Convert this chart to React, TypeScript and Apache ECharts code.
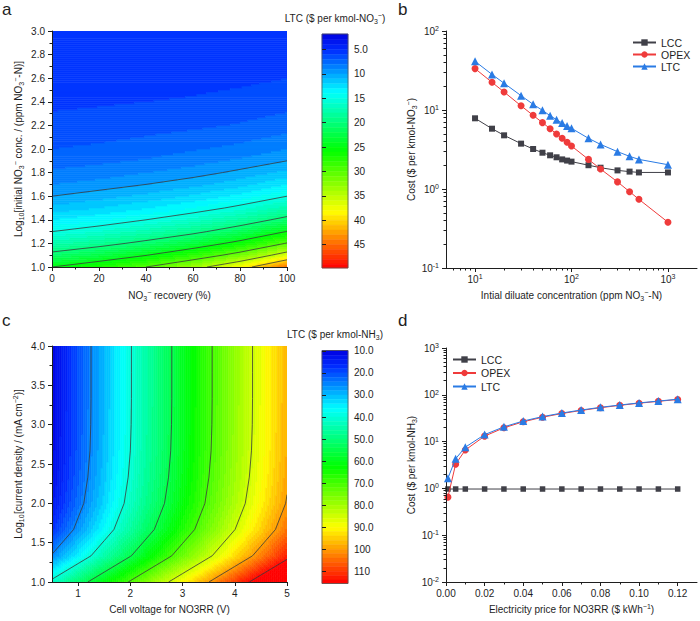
import React, { useEffect, useRef } from 'react';
import * as echarts from 'echarts';

const FONT = '"Liberation Sans", Arial, Helvetica, sans-serif';
const INK = '#1e1e1e';

// ---------------- Panel a : LTC map (recovery x log10 initial conc.) ----------------
const aRecovery = [0, 20, 40, 60, 80, 100];
const aLogConc = [1.0, 1.1, 1.2, 1.3, 1.4, 1.5, 1.6, 1.7, 1.8, 1.9, 2.0, 2.2, 2.4, 2.6, 2.8, 3.0];
// rows follow aLogConc, columns follow aRecovery
const aLTC = [
  [25.0, 27.2, 30.0, 33.6, 38.3, 45.0],
  [20.9, 22.6, 24.9, 27.7, 31.4, 36.8],
  [17.6, 19.0, 20.8, 23.0, 26.0, 30.2],
  [15.0, 16.1, 17.5, 19.3, 21.7, 25.1],
  [13.0, 13.8, 15.0, 16.4, 18.3, 20.9],
  [11.3, 12.0, 12.9, 14.0, 15.5, 17.6],
  [10.0, 10.6, 11.3, 12.2, 13.4, 15.0],
  [9.0, 9.4, 10.0, 10.7, 11.6, 13.0],
  [8.2, 8.5, 9.0, 9.5, 10.3, 11.3],
  [7.5, 7.8, 8.1, 8.6, 9.2, 10.0],
  [7.0, 7.2, 7.5, 7.9, 8.3, 9.0],
  [6.3, 6.4, 6.6, 6.8, 7.1, 7.5],
  [5.8, 5.9, 6.0, 6.1, 6.3, 6.6],
  [5.5, 5.6, 5.6, 5.7, 5.8, 6.0],
  [5.3, 5.4, 5.4, 5.5, 5.5, 5.6],
  [5.2, 5.2, 5.3, 5.3, 5.3, 5.4],
];
const aContourLevels = [10, 15, 20, 25, 30, 35, 40];
const aBarTicks = [5, 10, 15, 20, 25, 30, 35, 40, 45];

// ---------------- Panel b : cost vs initial diluate concentration ----------------
const bConc = [10, 15, 20, 30, 40, 50, 60, 70, 80, 90, 100, 150, 200, 300, 400, 500, 1000];
const bLCC = [7.85, 5.8, 4.78, 3.75, 3.21, 2.88, 2.67, 2.52, 2.37, 2.29, 2.22, 2.0, 1.86, 1.72, 1.66, 1.62, 1.62];
const bOPEX = [33.4, 22.4, 16.9, 11.3, 8.56, 6.92, 5.8, 4.97, 4.38, 3.9, 3.5, 2.37, 1.79, 1.23, 0.925, 0.74, 0.38];
const bLTC = [41.3, 28.2, 21.8, 15.2, 11.8, 9.9, 8.48, 7.55, 6.84, 6.27, 5.86, 4.38, 3.67, 2.97, 2.59, 2.37, 2.03];

// ---------------- Panel c : LTC map (cell voltage x log10 current density) ----------------
const cVoltage = [0.5, 1.0, 1.5, 2.0, 2.5, 3.0, 3.5, 4.0, 4.5, 5.0];
const cLogCurrent = [1.0, 1.333, 1.667, 2.0, 2.333, 2.667, 3.0, 3.333, 3.667, 4.0];
// rows follow cLogCurrent, columns follow cVoltage
const cLTC = [
  [41.7, 51.4, 61.1, 70.8, 80.5, 90.2, 99.9, 109.6, 119.3, 129.0],
  [25.5, 35.2, 44.9, 54.6, 64.3, 74.0, 83.7, 93.4, 103.1, 112.8],
  [17.0, 26.7, 36.4, 46.1, 55.8, 65.5, 75.2, 84.9, 94.6, 104.3],
  [13.2, 22.9, 32.6, 42.3, 52.0, 61.7, 71.4, 81.1, 90.8, 100.5],
  [11.7, 21.4, 31.1, 40.8, 50.5, 60.2, 69.9, 79.6, 89.3, 99.0],
  [10.9, 20.6, 30.3, 40.0, 49.7, 59.4, 69.1, 78.8, 88.5, 98.2],
  [10.6, 20.3, 30.0, 39.7, 49.4, 59.1, 68.8, 78.5, 88.2, 97.9],
  [10.5, 20.2, 29.9, 39.6, 49.3, 59.0, 68.7, 78.4, 88.1, 97.8],
  [10.5, 20.2, 29.9, 39.6, 49.3, 59.0, 68.7, 78.4, 88.1, 97.8],
  [10.5, 20.2, 29.9, 39.6, 49.3, 59.0, 68.7, 78.4, 88.1, 97.8],
];
const cContourLevels = [25, 40, 55, 70, 85, 100, 115];
const cBarTicks = [10, 20, 30, 40, 50, 60, 70, 80, 90, 100, 110];

// ---------------- Panel d : cost vs electricity price ----------------
const dPrice = [0.001, 0.005, 0.01, 0.02, 0.03, 0.04, 0.05, 0.06, 0.07, 0.08, 0.09, 0.1, 0.11, 0.12];
const dLCC = [0.97, 0.97, 0.97, 0.97, 0.97, 0.97, 0.97, 0.97, 0.97, 0.97, 0.97, 0.97, 0.97, 0.97];
const dOPEX = [0.65, 3.3, 6.6, 13.1, 19.7, 26.5, 33.2, 39.8, 46.3, 53.0, 59.5, 66.1, 72.5, 79.4];
const dLTC = [1.65, 4.3, 7.6, 14.1, 20.7, 27.5, 34.2, 40.8, 47.3, 54.0, 60.5, 67.1, 73.5, 80.4];

// ---------------- tick values ----------------
const bXMajor = [10, 100, 1000];
const bXMinor = [6, 7, 8, 9, 20, 30, 40, 50, 60, 70, 80, 90, 200, 300, 400, 500, 600, 700, 800, 900];
const bYMajor = [0.1, 1, 10, 100];
const bYMinor = [0.2, 0.3, 0.4, 0.5, 0.6, 0.7, 0.8, 0.9, 2, 3, 4, 5, 6, 7, 8, 9, 20, 30, 40, 50, 60, 70, 80, 90];
const cXMajor = [1, 2, 3, 4, 5];
const cXMinor = [0.5, 1.5, 2.5, 3.5, 4.5];
const dXMajor = [0, 0.02, 0.04, 0.06, 0.08, 0.1, 0.12];
const dXMinor = [0.01, 0.03, 0.05, 0.07, 0.09, 0.11];
const dYMajor = [0.01, 0.1, 1, 10, 100, 1000];
const dYMinor = [
  0.02, 0.03, 0.04, 0.05, 0.06, 0.07, 0.08, 0.09,
  0.2, 0.3, 0.4, 0.5, 0.6, 0.7, 0.8, 0.9,
  2, 3, 4, 5, 6, 7, 8, 9,
  20, 30, 40, 50, 60, 70, 80, 90,
  200, 300, 400, 500, 600, 700, 800, 900,
];

// ---------------- colour scales (style) ----------------
type Scale = { min: number; max: number; step: number };
const aScale: Scale = { min: 1.8, max: 49.8, step: 1 };
const cScale: Scale = { min: 9.8, max: 115.6, step: 2 };

const STOPS = [
  [0, 0, 0, 225],
  [0.07, 0, 45, 255],
  [0.25, 0, 255, 255],
  [0.5, 0, 255, 0],
  [0.76, 255, 255, 0],
  [1, 255, 0, 0],
];
function rainbow(f: number): string {
  const g = Math.max(0, Math.min(1, f));
  for (let i = 1; i < STOPS.length; i++) {
    if (g <= STOPS[i][0]) {
      const a = STOPS[i - 1];
      const b = STOPS[i];
      const t = (g - a[0]) / (b[0] - a[0]);
      const c = [1, 2, 3].map((k) => Math.round(a[k] + t * (b[k] - a[k])));
      return `rgb(${c[0]},${c[1]},${c[2]})`;
    }
  }
  return 'rgb(255,0,0)';
}
const bandLow = (s: Scale, v: number) => s.step * Math.floor(v / s.step);
const bandColor = (s: Scale, lo: number) => rainbow((lo + s.step / 2 - s.min) / (s.max - s.min));

function locate(arr: number[], v: number): [number, number] {
  let i = 0;
  while (i < arr.length - 2 && v > arr[i + 1]) i++;
  const t = (v - arr[i]) / (arr[i + 1] - arr[i]);
  return [i, Math.max(0, Math.min(1, t))];
}
function sampleField(xs: number[], ys: number[], table: number[][], x: number, y: number) {
  const [i, tx] = locate(xs, x);
  const [j, ty] = locate(ys, y);
  const v00 = table[j][i];
  const v10 = table[j][i + 1];
  const v01 = table[j + 1][i];
  const v11 = table[j + 1][i + 1];
  return v00 * (1 - tx) * (1 - ty) + v10 * tx * (1 - ty) + v01 * (1 - tx) * ty + v11 * tx * ty;
}

// run-length cells of the shaded map, derived from the table
function buildRuns(xs: number[], ys: number[], table: number[][], s: Scale, n: number, alongX: boolean) {
  const xMin = xs[0];
  const xMax = xs[xs.length - 1];
  const yMin = ys[0];
  const yMax = ys[ys.length - 1];
  const dx = (xMax - xMin) / n;
  const dy = (yMax - yMin) / n;
  const runs: number[][] = [];
  for (let a = 0; a < n; a++) {
    let start = 0;
    let cur = NaN;
    for (let b = 0; b <= n; b++) {
      let band = NaN;
      if (b < n) {
        const x = alongX ? xMin + (b + 0.5) * dx : xMin + (a + 0.5) * dx;
        const y = alongX ? yMin + (a + 0.5) * dy : yMin + (b + 0.5) * dy;
        band = bandLow(s, sampleField(xs, ys, table, x, y));
      }
      if (b === 0) {
        cur = band;
        continue;
      }
      if (band !== cur) {
        if (alongX) runs.push([xMin + start * dx, xMin + b * dx, yMin + a * dy, yMin + (a + 1) * dy, cur]);
        else runs.push([xMin + a * dx, xMin + (a + 1) * dx, yMin + start * dy, yMin + b * dy, cur]);
        start = b;
        cur = band;
      }
    }
  }
  return runs;
}

// marching squares on the table nodes
function contourSegments(xs: number[], ys: number[], table: number[][], levels: number[]) {
  const segs: number[][] = [];
  levels.forEach((level) => {
    for (let j = 0; j < ys.length - 1; j++) {
      for (let i = 0; i < xs.length - 1; i++) {
        const corners = [
          [xs[i], ys[j], table[j][i]],
          [xs[i + 1], ys[j], table[j][i + 1]],
          [xs[i + 1], ys[j + 1], table[j + 1][i + 1]],
          [xs[i], ys[j + 1], table[j + 1][i]],
        ];
        const pts: number[][] = [];
        for (let k = 0; k < 4; k++) {
          const p = corners[k];
          const q = corners[(k + 1) % 4];
          if ((p[2] < level) !== (q[2] < level)) {
            const t = (level - p[2]) / (q[2] - p[2]);
            pts.push([p[0] + t * (q[0] - p[0]), p[1] + t * (q[1] - p[1])]);
          }
        }
        if (pts.length === 2) segs.push([pts[0][0], pts[0][1], pts[1][0], pts[1][1]]);
        else if (pts.length === 4) {
          segs.push([pts[0][0], pts[0][1], pts[1][0], pts[1][1]]);
          segs.push([pts[2][0], pts[2][1], pts[3][0], pts[3][1]]);
        }
      }
    }
  });
  return segs;
}

function barStrips(s: Scale) {
  const strips: number[][] = [];
  for (let lo = bandLow(s, s.min); lo < s.max; lo += s.step) {
    strips.push([Math.max(lo, s.min), Math.min(lo + s.step, s.max), lo]);
  }
  return strips;
}

const RICH = {
  sub: { fontSize: 7, fontFamily: FONT, color: INK, lineHeight: 8, padding: [6, 0, 0, 0] },
  sup: { fontSize: 7, fontFamily: FONT, color: INK, lineHeight: 8, padding: [0, 0, 6, 0] },
};
const TICK_RICH = { sup: { fontSize: 7, fontFamily: FONT, color: INK, lineHeight: 8, padding: [0, 0, 5, 0] } };

const lineStyle = { color: INK, width: 1 };

function mainAxis(extra: any) {
  const { axisLabel, axisTick, ...rest } = extra;
  return {
    type: 'value',
    nameLocation: 'middle',
    nameTextStyle: { fontSize: 10, fontFamily: FONT, color: INK, rich: RICH },
    axisLine: { show: true, onZero: false, lineStyle },
    axisTick: { show: true, inside: false, length: 4, lineStyle, ...(axisTick || {}) },
    axisLabel: { fontSize: 10, fontFamily: FONT, color: INK, margin: 6, ...(axisLabel || {}) },
    splitLine: { show: false },
    z: 5,
    ...rest,
  };
}
function minorAxis(gridIndex: number, type: string, min: number, max: number, values: number[], position: string) {
  const ax: any = {
    gridIndex,
    type,
    min,
    max,
    position,
    axisLine: { show: false },
    axisLabel: { show: false },
    splitLine: { show: false },
    axisTick: { show: true, inside: false, length: 2.5, lineStyle, customValues: values },
    z: 6,
  };
  if (type === 'log') ax.logBase = 10;
  return ax;
}
const pow10Label = (v: number) => '10{sup|' + Math.round(Math.log10(v)) + '}';

const heatRender = (s: Scale) => (params: any, api: any) => {
  const p0 = api.coord([api.value(0), api.value(3)]);
  const p1 = api.coord([api.value(1), api.value(2)]);
  const col = bandColor(s, api.value(4));
  return {
    type: 'rect',
    shape: { x: p0[0], y: p0[1], width: p1[0] - p0[0], height: p1[1] - p0[1] },
    style: { fill: col, stroke: col, lineWidth: 0.6 },
  };
};
const contourRender = (params: any, api: any) => {
  const p0 = api.coord([api.value(0), api.value(1)]);
  const p1 = api.coord([api.value(2), api.value(3)]);
  return {
    type: 'line',
    shape: { x1: p0[0], y1: p0[1], x2: p1[0], y2: p1[1] },
    style: { stroke: '#3a3a3a', lineWidth: 0.8, fill: null },
  };
};
const stripRender = (s: Scale) => (params: any, api: any) => {
  const p0 = api.coord([0, api.value(0)]);
  const p1 = api.coord([1, api.value(1)]);
  const col = bandColor(s, api.value(2));
  const y = Math.min(p0[1], p1[1]);
  return {
    type: 'rect',
    shape: { x: p0[0], y, width: p1[0] - p0[0], height: Math.abs(p1[1] - p0[1]) },
    style: { fill: col, stroke: col, lineWidth: 0.5 },
  };
};
const frameRender = (params: any, api: any) => {
  const p0 = api.coord([0, api.value(0)]);
  const p1 = api.coord([1, api.value(1)]);
  const y = Math.min(p0[1], p1[1]);
  return {
    type: 'rect',
    shape: { x: p0[0], y, width: p1[0] - p0[0], height: Math.abs(p1[1] - p0[1]) },
    style: { fill: null, stroke: '#555', lineWidth: 0.8 },
    z2: 10,
  };
};

const LCC_COLOR = '#404048';
const OPEX_COLOR = '#ef3b3b';
const LTC_COLOR = '#2a7be4';

function lineSeries(name: string, xi: number, xs: number[], ys: number[], color: string, symbol: string, size: number, z: number) {
  return {
    type: 'line',
    name,
    xAxisIndex: xi,
    yAxisIndex: xi,
    data: xs.map((x, i) => [x, ys[i]]),
    symbol,
    symbolSize: size,
    showAllSymbol: true,
    itemStyle: { color, borderWidth: 0 },
    lineStyle: { color, width: 1 },
    silent: true,
    z,
  };
}

function buildOption() {
  const aRuns = buildRuns(aRecovery, aLogConc, aLTC, aScale, 120, true);
  const cRuns = buildRuns(cVoltage, cLogCurrent, cLTC, cScale, 120, false);
  const aSegs = contourSegments(aRecovery, aLogConc, aLTC, aContourLevels);
  const cSegs = contourSegments(cVoltage, cLogCurrent, cLTC, cContourLevels);

  const titleStyle = { fontSize: 17, fontWeight: 'normal', color: INK, fontFamily: FONT };
  const barTitleStyle = { fontSize: 10, fontWeight: 'normal', color: INK, fontFamily: FONT, rich: RICH };
  const legendBase = {
    orient: 'vertical',
    itemWidth: 23,
    itemHeight: 8,
    padding: 0,
    selectedMode: false,
    textStyle: { fontSize: 10.5, color: INK, fontFamily: FONT, lineHeight: 11 },
    data: ['LCC', 'OPEX', 'LTC'],
  };

  return {
    animation: false,
    backgroundColor: '#ffffff',
    textStyle: { fontFamily: FONT },
    title: [
      { text: 'a', left: 2, top: 1, padding: 0, textStyle: titleStyle },
      { text: 'b', left: 398, top: 1, padding: 0, textStyle: titleStyle },
      { text: 'c', left: 2, top: 312, padding: 0, textStyle: titleStyle },
      { text: 'd', left: 398, top: 312, padding: 0, textStyle: titleStyle },
      { text: 'LTC ($ per kmol-NO{sub|3}{sup|−})', left: 335, top: 13, textAlign: 'center', padding: 0, textStyle: barTitleStyle },
      { text: 'LTC ($ per kmol-NH{sub|3})', left: 335, top: 329, textAlign: 'center', padding: 0, textStyle: barTitleStyle },
    ],
    legend: [
      { ...legendBase, left: 632, top: 37, itemGap: 1 },
      { ...legendBase, left: 452, top: 354, itemGap: 2.5 },
    ],
    grid: [
      { left: 52, top: 31, width: 235, height: 236, containLabel: false, outerBoundsMode: 'none' },
      { left: 322, top: 34, width: 26, height: 234, containLabel: false, outerBoundsMode: 'none' },
      { left: 446, top: 31, width: 251, height: 237, containLabel: false, outerBoundsMode: 'none' },
      { left: 52, top: 346, width: 235, height: 236, containLabel: false, outerBoundsMode: 'none' },
      { left: 322, top: 350.5, width: 26, height: 233, containLabel: false, outerBoundsMode: 'none' },
      { left: 446, top: 348, width: 251, height: 234, containLabel: false, outerBoundsMode: 'none' },
    ],
    xAxis: [
      mainAxis({
        gridIndex: 0, min: 0, max: 100, interval: 20,
        minorTick: { show: true, splitNumber: 2, length: 2.5, lineStyle },
        name: 'NO{sub|3}{sup|−} recovery (%)', nameGap: 23,
      }),
      { gridIndex: 1, type: 'value', min: 0, max: 1, show: false },
      mainAxis({
        gridIndex: 2, type: 'log', logBase: 10, min: 5, max: 2000,
        axisTick: { customValues: bXMajor },
        axisLabel: { customValues: bXMajor, formatter: pow10Label, rich: TICK_RICH },
        name: 'Intial diluate concentration (ppm NO{sub|3}{sup|−}-N)', nameGap: 22,
      }),
      minorAxis(2, 'log', 5, 2000, bXMinor, 'bottom'),
      mainAxis({
        gridIndex: 3, min: 0.5, max: 5, interval: 0.5,
        axisTick: { customValues: cXMajor },
        axisLabel: { customValues: cXMajor, formatter: (v: number) => String(Math.round(v)) },
        name: 'Cell voltage for NO3RR (V)', nameGap: 22,
      }),
      { gridIndex: 4, type: 'value', min: 0, max: 1, show: false },
      mainAxis({
        gridIndex: 5, min: 0, max: 0.13,
        axisTick: { customValues: dXMajor },
        axisLabel: { customValues: dXMajor, formatter: (v: number) => v.toFixed(2) },
        name: 'Electricity price for NO3RR ($ kWh{sup|−1})', nameGap: 22,
      }),
      minorAxis(5, 'value', 0, 0.13, dXMinor, 'bottom'),
    ],
    yAxis: [
      mainAxis({
        gridIndex: 0, min: 1, max: 3, interval: 0.2,
        minorTick: { show: true, splitNumber: 2, length: 2.5, lineStyle },
        axisLabel: { formatter: (v: number) => v.toFixed(1), margin: 7 },
        name: 'Log{sub|10}[initial NO{sub|3}{sup|−} conc. / (ppm NO{sub|3}{sup|−}-N)]', nameGap: 29,
      }),
      {
        gridIndex: 1, type: 'value', min: aScale.min, max: aScale.max, inverse: true, position: 'right',
        axisLine: { show: false },
        axisTick: { show: true, length: 4, lineStyle, customValues: aBarTicks },
        axisLabel: {
          customValues: aBarTicks, fontSize: 10, fontFamily: FONT, color: INK, margin: 6,
          formatter: (v: number) => (v === 5 ? '5.0' : String(v)),
        },
        splitLine: { show: false },
        z: 5,
      },
      mainAxis({
        gridIndex: 2, type: 'log', logBase: 10, min: 0.1, max: 100,
        axisTick: { customValues: bYMajor },
        axisLabel: { customValues: bYMajor, formatter: pow10Label, rich: TICK_RICH, margin: 7 },
        name: 'Cost ($ per kmol-NO{sub|3}{sup|−})', nameGap: 28,
      }),
      minorAxis(2, 'log', 0.1, 100, bYMinor, 'left'),
      mainAxis({
        gridIndex: 3, min: 1, max: 4, interval: 0.5,
        minorTick: { show: true, splitNumber: 2, length: 2.5, lineStyle },
        axisLabel: { formatter: (v: number) => v.toFixed(1), margin: 7 },
        name: 'Log{sub|10}[current density / (mA cm{sup|−2})]', nameGap: 29,
      }),
      {
        gridIndex: 4, type: 'value', min: cScale.min, max: cScale.max, inverse: true, position: 'right',
        axisLine: { show: false },
        axisTick: { show: true, length: 4, lineStyle, customValues: cBarTicks },
        axisLabel: {
          customValues: cBarTicks, fontSize: 10, fontFamily: FONT, color: INK, margin: 6,
          formatter: (v: number) => (v < 100 ? v.toFixed(1) : String(v)),
        },
        splitLine: { show: false },
        z: 5,
      },
      mainAxis({
        gridIndex: 5, type: 'log', logBase: 10, min: 0.01, max: 1000,
        axisTick: { customValues: dYMajor },
        axisLabel: { customValues: dYMajor, formatter: pow10Label, rich: TICK_RICH, margin: 7 },
        name: 'Cost ($ per kmol-NH{sub|3})', nameGap: 28,
      }),
      minorAxis(5, 'log', 0.01, 1000, dYMinor, 'left'),
    ],
    series: [
      { type: 'custom', name: 'mapA', xAxisIndex: 0, yAxisIndex: 0, data: aRuns, renderItem: heatRender(aScale), silent: true, clip: true, z: 1 },
      { type: 'custom', name: 'contourA', xAxisIndex: 0, yAxisIndex: 0, data: aSegs, renderItem: contourRender, silent: true, clip: true, z: 2 },
      { type: 'custom', name: 'barA', xAxisIndex: 1, yAxisIndex: 1, data: barStrips(aScale), renderItem: stripRender(aScale), silent: true, z: 1 },
      { type: 'custom', name: 'frameA', xAxisIndex: 1, yAxisIndex: 1, data: [[aScale.min, aScale.max]], renderItem: frameRender, silent: true, z: 3 },
      lineSeries('LCC', 2, bConc, bLCC, LCC_COLOR, 'rect', 6, 3),
      lineSeries('OPEX', 2, bConc, bOPEX, OPEX_COLOR, 'circle', 7, 4),
      lineSeries('LTC', 2, bConc, bLTC, LTC_COLOR, 'triangle', 8, 5),
      { type: 'custom', name: 'mapC', xAxisIndex: 4, yAxisIndex: 4, data: cRuns, renderItem: heatRender(cScale), silent: true, clip: true, z: 1 },
      { type: 'custom', name: 'contourC', xAxisIndex: 4, yAxisIndex: 4, data: cSegs, renderItem: contourRender, silent: true, clip: true, z: 2 },
      { type: 'custom', name: 'barC', xAxisIndex: 5, yAxisIndex: 5, data: barStrips(cScale), renderItem: stripRender(cScale), silent: true, z: 1 },
      { type: 'custom', name: 'frameC', xAxisIndex: 5, yAxisIndex: 5, data: [[cScale.min, cScale.max]], renderItem: frameRender, silent: true, z: 3 },
      lineSeries('LCC', 6, dPrice, dLCC, LCC_COLOR, 'rect', 5.5, 3),
      lineSeries('OPEX', 6, dPrice, dOPEX, OPEX_COLOR, 'circle', 7, 4),
      lineSeries('LTC', 6, dPrice, dLTC, LTC_COLOR, 'triangle', 8, 5),
    ],
  };
}

export default function App() {
  const ref = useRef<HTMLDivElement>(null);
  useEffect(() => {
    if (!ref.current) return;
    const chart = echarts.init(ref.current, null, { renderer: 'svg' });
    chart.setOption(buildOption() as any);
    return () => chart.dispose();
  }, []);
  return (
    <div
      ref={ref}
      style={{ position: 'absolute', left: 0, top: 0, width: 700, height: 621, background: '#fff' }}
    />
  );
}
